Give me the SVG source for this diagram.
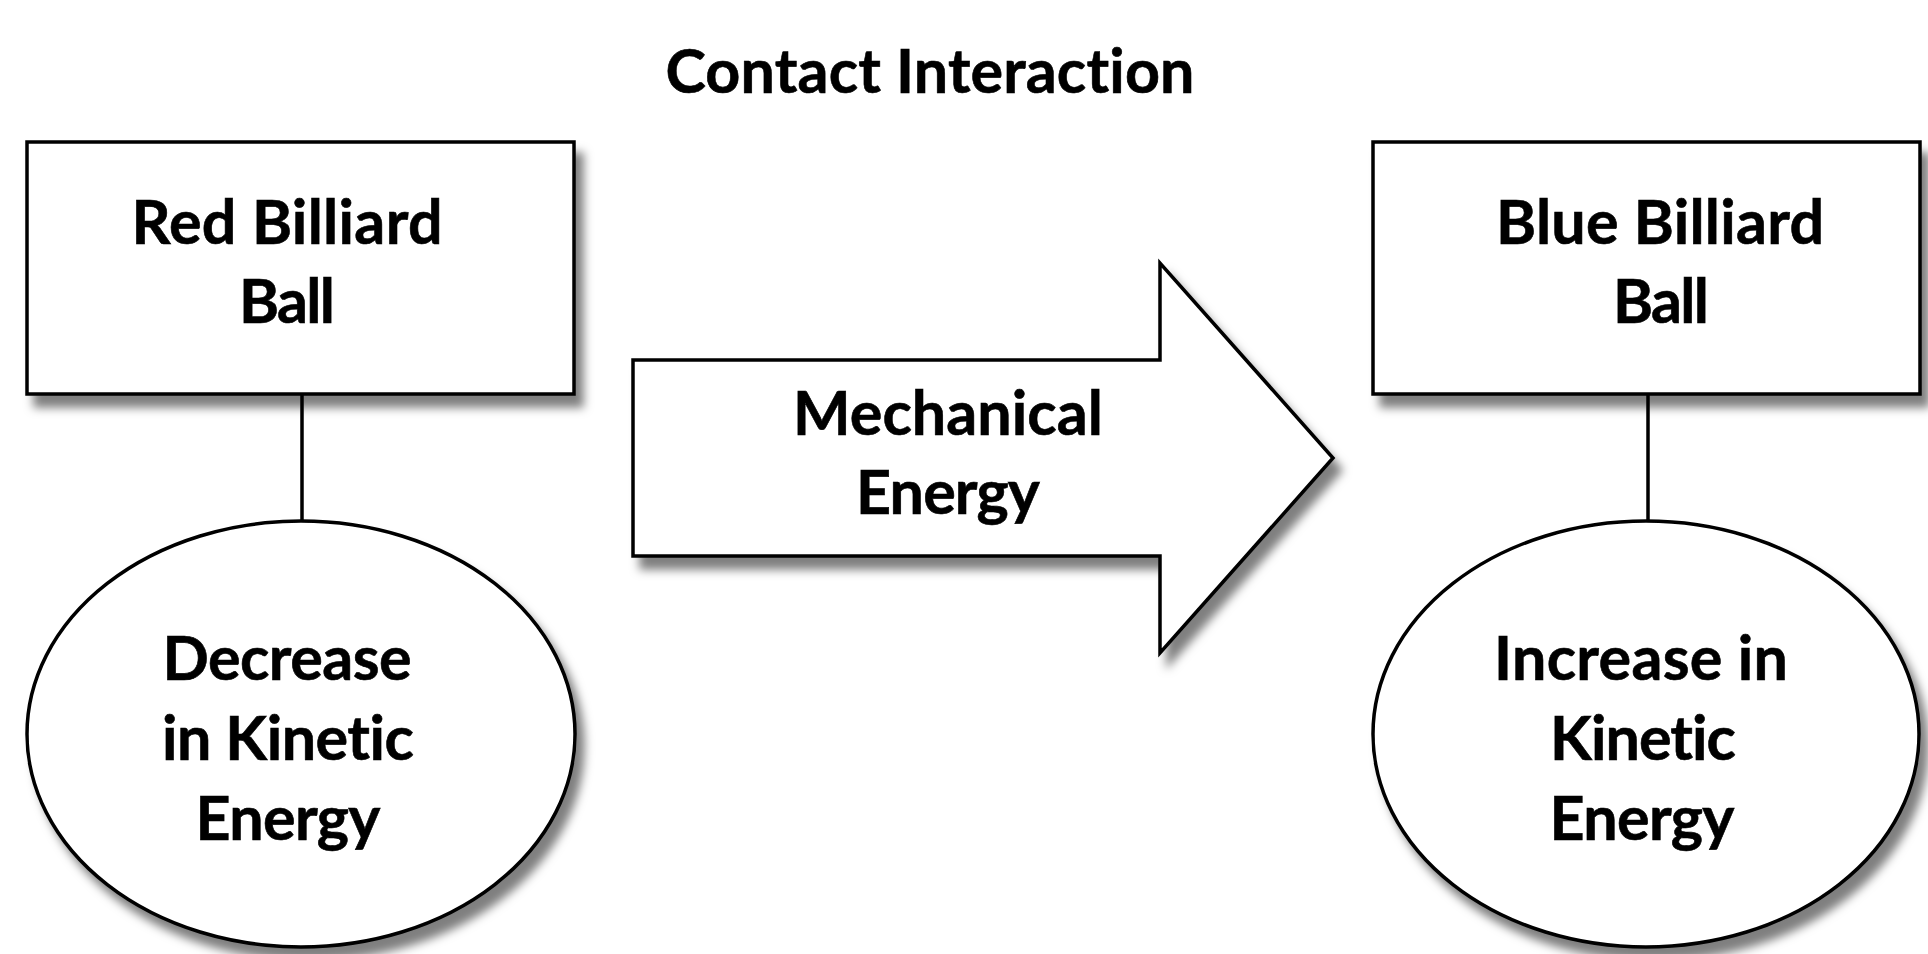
<svg xmlns="http://www.w3.org/2000/svg" width="1928" height="954" viewBox="0 0 1928 954">
  <defs>
    <filter id="shadow" x="-10%" y="-10%" width="125%" height="130%">
      <feDropShadow dx="8" dy="12" stdDeviation="5" flood-color="#000" flood-opacity="0.5"/>
    </filter>
  </defs>
  <style>
    .shape { fill: #fff; stroke: #000; stroke-width: 3.5; filter: url(#shadow); }
    .link { stroke: #000; stroke-width: 3.5; fill: none; }
    .label { font-family: Lato, "Open Sans", "Liberation Sans", sans-serif; font-weight: 700; font-size: 61px; fill: #000; stroke: #000; stroke-width: 0.6; text-anchor: middle; font-variant-ligatures: none; font-feature-settings: "liga" 0, "clig" 0; }
  </style>
  <rect width="1928" height="954" fill="#fff"/>

  <text id="title" class="label" x="930" y="93" textLength="529">Contact Interaction</text>

  <g id="connectors">
    <line class="link" x1="302" y1="394" x2="302" y2="521"/>
    <line class="link" x1="1648" y1="394" x2="1648" y2="521"/>
  </g>

  <g id="red-ball">
    <rect class="shape" x="27" y="142" width="547" height="252"/>
    <text class="label" x="287" y="244" textLength="311">Red Billiard</text>
    <text class="label" x="287" y="323" textLength="96">Ball</text>
  </g>

  <g id="red-kinetic">
    <ellipse class="shape" cx="301" cy="734" rx="274" ry="213"/>
    <text class="label" x="287" y="680" textLength="249">Decrease</text>
    <text class="label" x="288" y="760" textLength="252">in Kinetic</text>
    <text class="label" x="288" y="840" textLength="185">Energy</text>
  </g>

  <g id="mechanical-energy">
    <path class="shape" d="M633,360 L1160,360 L1160,263 L1333,458 L1160,653 L1160,556 L633,556 Z"/>
    <text class="label" x="948" y="435" textLength="310">Mechanical</text>
    <text class="label" x="948" y="514" textLength="184">Energy</text>
  </g>

  <g id="blue-ball">
    <rect class="shape" x="1373" y="142" width="547" height="252"/>
    <text class="label" x="1660" y="244" textLength="328">Blue Billiard</text>
    <text class="label" x="1661" y="323" textLength="96">Ball</text>
  </g>

  <g id="blue-kinetic">
    <ellipse class="shape" cx="1646" cy="734" rx="273" ry="213"/>
    <text class="label" x="1641" y="680" textLength="294">Increase in</text>
    <text class="label" x="1643" y="760" textLength="186">Kinetic</text>
    <text class="label" x="1642" y="840" textLength="185">Energy</text>
  </g>
</svg>
